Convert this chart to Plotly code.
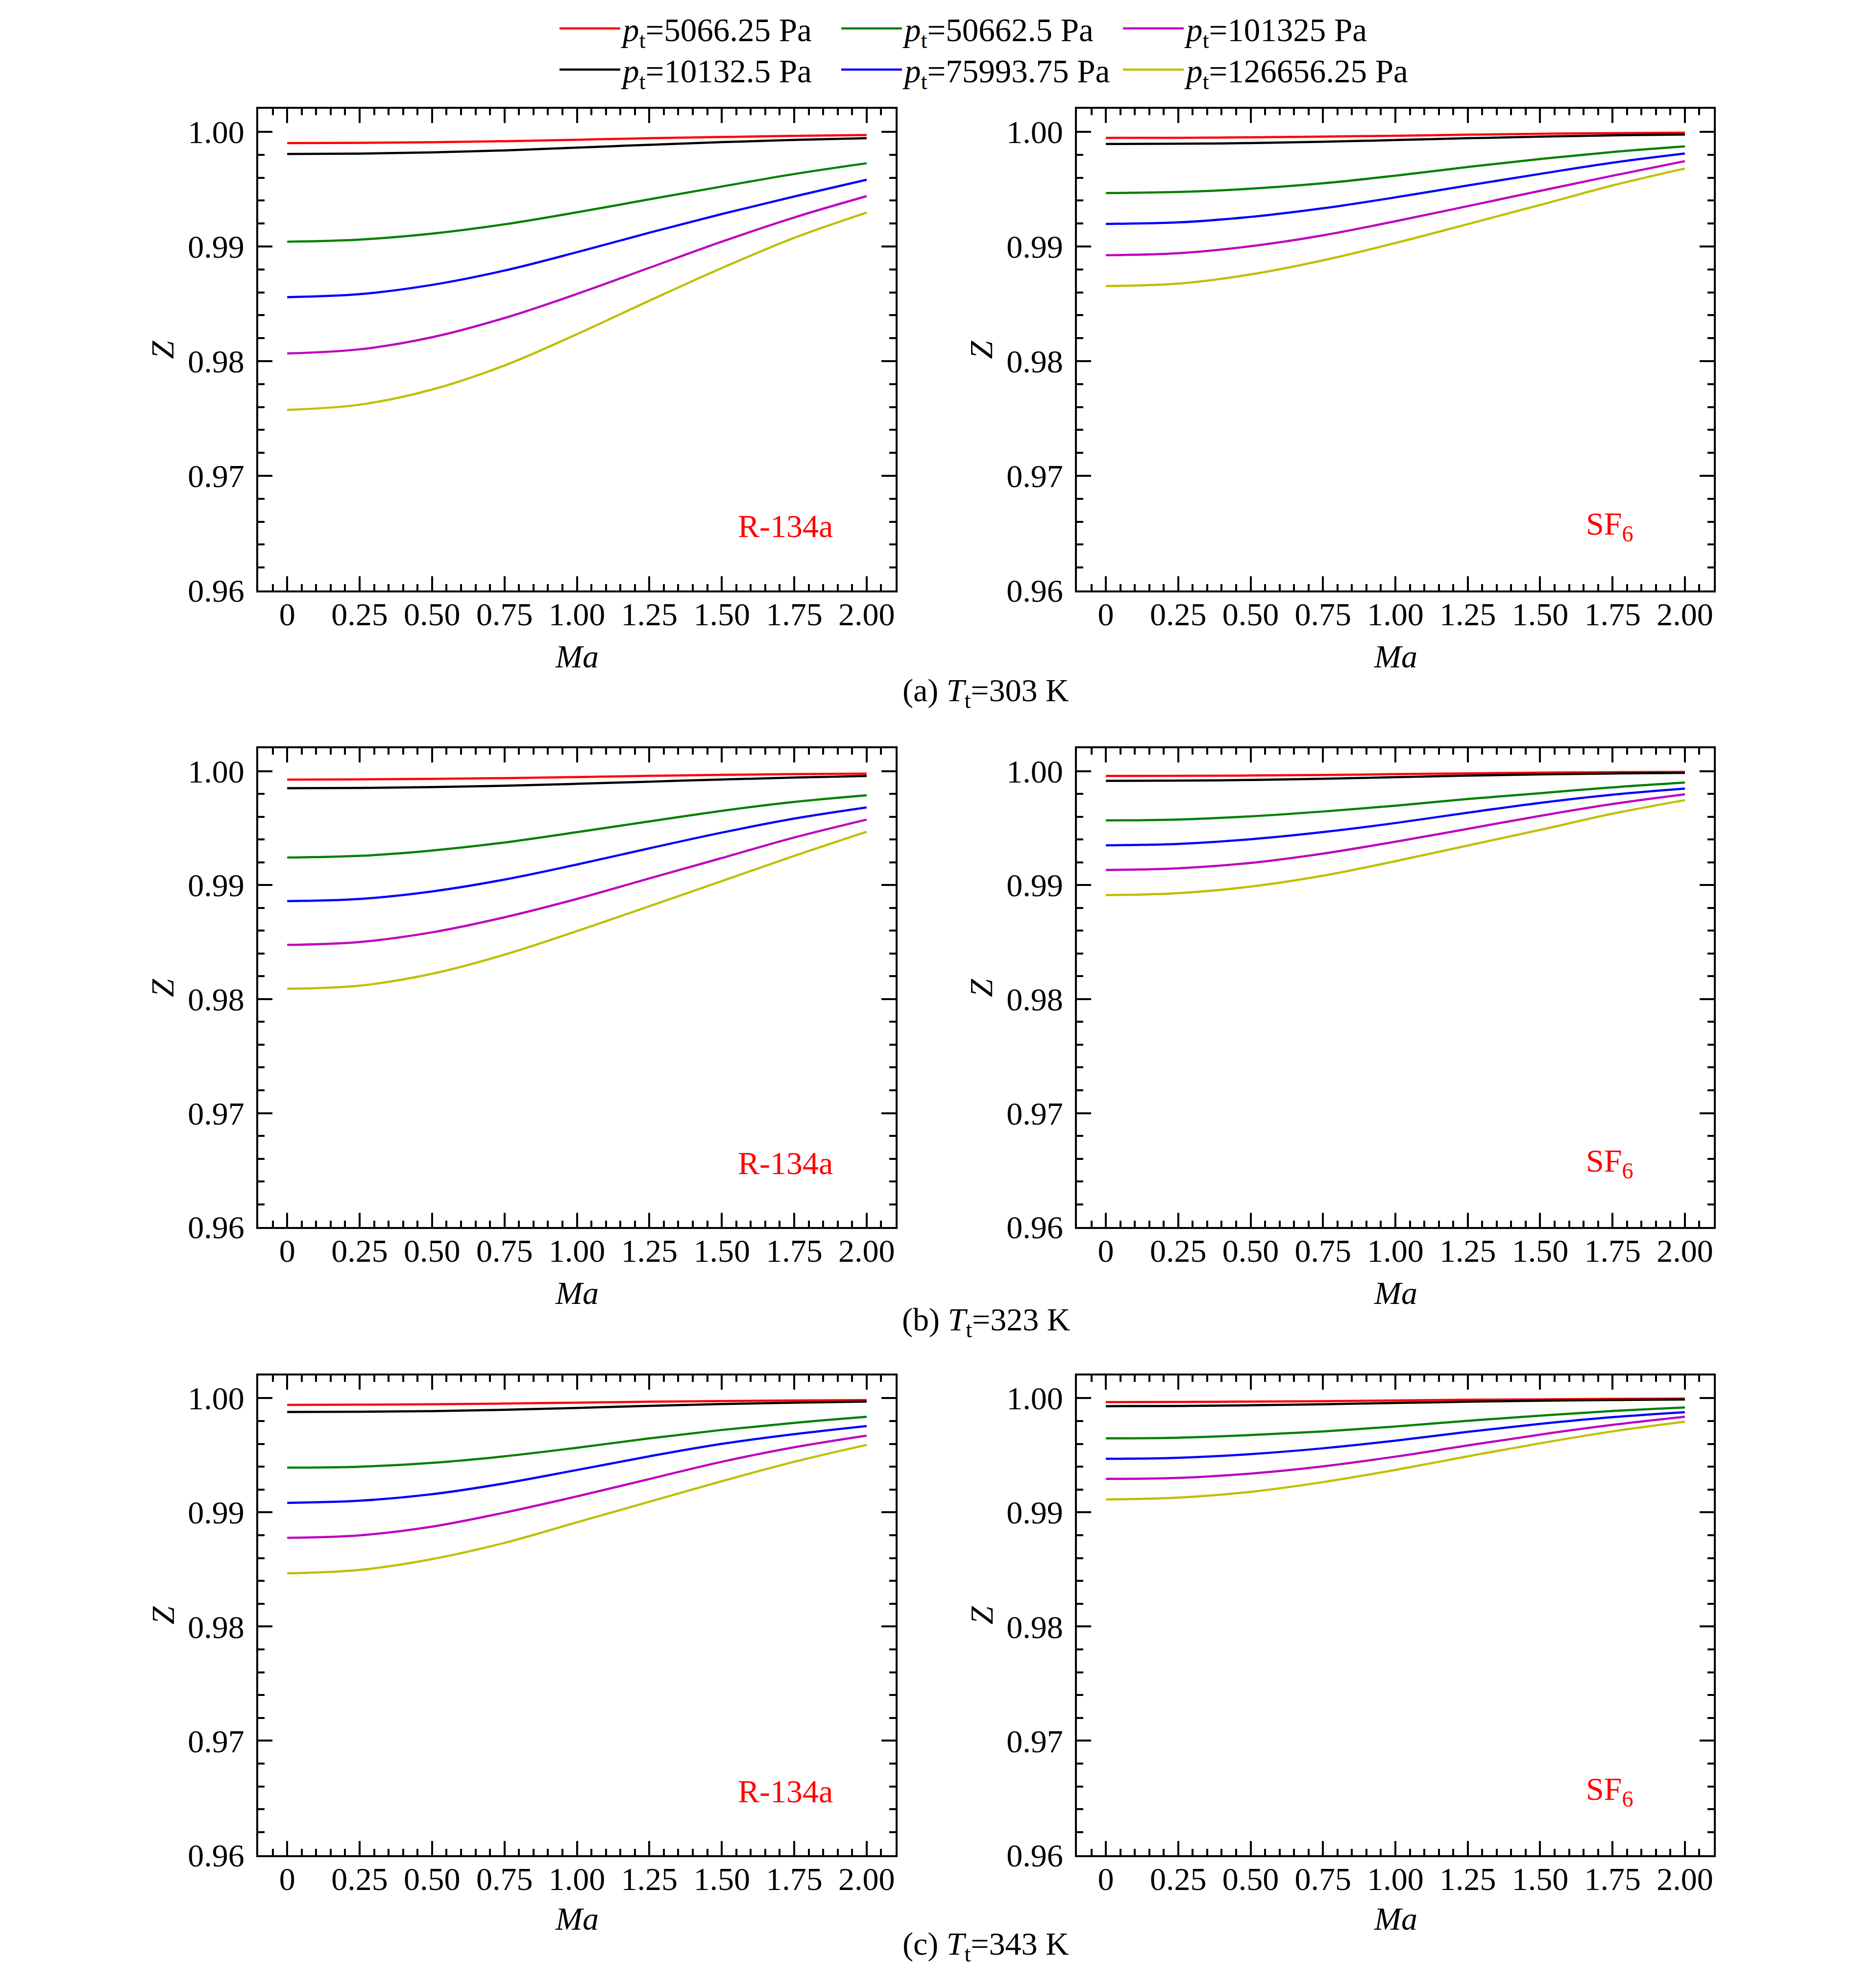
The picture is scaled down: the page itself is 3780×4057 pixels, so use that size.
import plotly.graph_objects as go
from plotly.subplots import make_subplots

# Mach number samples
ma = [0, 0.25, 0.5, 0.75, 1.0, 1.25, 1.5, 1.75, 2.0]

pressures = ["5066.25", "10132.5", "50662.5", "75993.75", "101325", "126656.25"]
colors = ["#FF0000", "#000000", "#008000", "#0000FF", "#BF00BF", "#BFBF00"]

ma_ticks = [0, 0.25, 0.5, 0.75, 1.0, 1.25, 1.5, 1.75, 2.0]
ma_ticktext = ["0", "0.25", "0.50", "0.75", "1.00", "1.25", "1.50", "1.75", "2.00"]
z_ticks = [0.96, 0.97, 0.98, 0.99, 1.00]
temps = ["303", "323", "343"]
fluids = ["R-134a", "SF<sub>6</sub>"]

# Z values, one list per total pressure (same order as `pressures`)
z_r134a_303 = [
    [0.99902, 0.99904, 0.99909, 0.99918, 0.99931, 0.99944, 0.99955, 0.99965, 0.99972],
    [0.99807, 0.99810, 0.99820, 0.99838, 0.99862, 0.99887, 0.99910, 0.99929, 0.99944],
    [0.99042, 0.99060, 0.99112, 0.99193, 0.99298, 0.99411, 0.99523, 0.99632, 0.99726],
    [0.98558, 0.98584, 0.98665, 0.98790, 0.98950, 0.99120, 0.99283, 0.99436, 0.99582],
    [0.98067, 0.98103, 0.98208, 0.98376, 0.98586, 0.98814, 0.99042, 0.99253, 0.99439],
    [0.97575, 0.97620, 0.97752, 0.97962, 0.98235, 0.98527, 0.98812, 0.99075, 0.99295],
]
z_sf6_303 = [
    [0.99947, 0.99948, 0.99952, 0.99958, 0.99966, 0.99975, 0.99983, 0.99988, 0.99992],
    [0.99894, 0.99896, 0.99902, 0.99913, 0.99928, 0.99944, 0.99958, 0.99969, 0.99977],
    [0.99466, 0.99475, 0.99504, 0.99551, 0.99617, 0.99693, 0.99763, 0.99824, 0.99873],
    [0.99197, 0.99210, 0.99258, 0.99333, 0.99428, 0.99532, 0.99633, 0.99731, 0.99811],
    [0.98924, 0.98941, 0.99002, 0.99097, 0.99220, 0.99352, 0.99485, 0.99617, 0.99744],
    [0.98655, 0.98676, 0.98756, 0.98879, 0.99030, 0.99195, 0.99362, 0.99532, 0.99680],
]
z_r134a_323 = [
    [0.99926, 0.99928, 0.99932, 0.99939, 0.99949, 0.99959, 0.99968, 0.99974, 0.99979],
    [0.99851, 0.99853, 0.99860, 0.99872, 0.99889, 0.99908, 0.99927, 0.99944, 0.99958],
    [0.99242, 0.99257, 0.99304, 0.99374, 0.99465, 0.99559, 0.99652, 0.99730, 0.99788],
    [0.98860, 0.98879, 0.98945, 0.99049, 0.99181, 0.99323, 0.99461, 0.99584, 0.99682],
    [0.98476, 0.98501, 0.98586, 0.98718, 0.98879, 0.99059, 0.99238, 0.99418, 0.99575],
    [0.98091, 0.98118, 0.98222, 0.98390, 0.98597, 0.98815, 0.99035, 0.99257, 0.99469],
]
z_sf6_323 = [
    [0.99958, 0.99959, 0.99962, 0.99967, 0.99974, 0.99981, 0.99987, 0.99991, 0.99994],
    [0.99915, 0.99917, 0.99923, 0.99933, 0.99947, 0.99961, 0.99972, 0.99980, 0.99985],
    [0.99568, 0.99576, 0.99604, 0.99646, 0.99697, 0.99756, 0.99807, 0.99858, 0.99900],
    [0.99350, 0.99362, 0.99403, 0.99466, 0.99545, 0.99636, 0.99722, 0.99794, 0.99848],
    [0.99133, 0.99148, 0.99195, 0.99277, 0.99381, 0.99494, 0.99608, 0.99712, 0.99797],
    [0.98913, 0.98930, 0.98987, 0.99083, 0.99210, 0.99348, 0.99485, 0.99627, 0.99746],
]
z_r134a_343 = [
    [0.99941, 0.99943, 0.99947, 0.99953, 0.99961, 0.99969, 0.99975, 0.99980, 0.99983],
    [0.99879, 0.99881, 0.99887, 0.99898, 0.99915, 0.99933, 0.99949, 0.99961, 0.99970],
    [0.99392, 0.99400, 0.99434, 0.99491, 0.99566, 0.99648, 0.99722, 0.99784, 0.99837],
    [0.99083, 0.99102, 0.99159, 0.99254, 0.99371, 0.99491, 0.99600, 0.99685, 0.99756],
    [0.98777, 0.98799, 0.98875, 0.98998, 0.99140, 0.99292, 0.99443, 0.99570, 0.99672],
    [0.98466, 0.98496, 0.98591, 0.98733, 0.98913, 0.99093, 0.99273, 0.99443, 0.99591],
]
z_sf6_343 = [
    [0.99966, 0.99967, 0.99970, 0.99974, 0.99980, 0.99986, 0.99990, 0.99994, 0.99996],
    [0.99930, 0.99932, 0.99938, 0.99947, 0.99958, 0.99969, 0.99978, 0.99984, 0.99989],
    [0.99648, 0.99654, 0.99677, 0.99709, 0.99752, 0.99802, 0.99847, 0.99888, 0.99919],
    [0.99469, 0.99478, 0.99510, 0.99561, 0.99628, 0.99705, 0.99775, 0.99834, 0.99877],
    [0.99293, 0.99302, 0.99340, 0.99403, 0.99488, 0.99586, 0.99681, 0.99766, 0.99837],
    [0.99113, 0.99129, 0.99180, 0.99265, 0.99372, 0.99491, 0.99605, 0.99709, 0.99794],
]

panels = [[z_r134a_303, z_sf6_303], [z_r134a_323, z_sf6_323], [z_r134a_343, z_sf6_343]]

W, H = 3780, 4057
FONT = "Liberation Serif"
FS = 66

# panel frames in pixels (left, right) and (top, bottom)
col_px = [(519, 1820), (2190, 3490)]
row_px = [(196, 1193), (1520, 2511), (2818, 3811)]
ma_title_px = [1329, 2647, 3943]
caption_px = [1405, 2707, 4000]

fig = make_subplots(rows=3, cols=2)

for r in range(3):
    for c in range(2):
        data = panels[r][c]
        for i in range(len(pressures)):
            first = (r == 0 and c == 0)
            fig.add_trace(go.Scatter(
                x=ma, y=data[i], mode="lines",
                line=dict(color=colors[i], width=4.5, shape="spline", smoothing=1.0),
                name="<i>p</i><sub>t</sub>=" + pressures[i] + " Pa",
                showlegend=first,
                legend="legend" if i % 2 == 0 else "legend2",
                legendrank=i,
            ), row=r + 1, col=c + 1)

# empty spacer entries so the widest legend label is not clipped
for lg in ["legend", "legend2"]:
    fig.add_trace(go.Scatter(x=[None], y=[None], mode="lines", name=" ",
                             line=dict(width=0, color="rgba(0,0,0,0)"),
                             legend=lg, legendrank=99, hoverinfo="skip"), row=1, col=1)

axis_common = dict(
    showline=True, linecolor="black", linewidth=4, mirror="ticks",
    ticks="inside", tickcolor="black", tickwidth=3.5, ticklen=29,
    showgrid=False, zeroline=False,
    tickfont=dict(family=FONT, size=FS, color="black"),
)
minor_common = dict(ticks="inside", ticklen=13, tickwidth=3.5, tickcolor="black")

for r in range(3):
    for c in range(2):
        k = r * 2 + c + 1
        x0, x1 = col_px[c]
        y0, y1 = row_px[r]
        fig.update_xaxes(
            domain=[x0 / W, x1 / W], range=[-0.1, 2.1],
            tickvals=ma_ticks, ticktext=ma_ticktext, ticklabelstandoff=-12,
            minor=dict(dtick=0.05, tick0=0, **minor_common),
            row=r + 1, col=c + 1, **axis_common)
        fig.update_yaxes(
            domain=[1 - y1 / H, 1 - y0 / H], range=[0.96, 1.002],
            tickvals=z_ticks, tickformat=".2f", ticklabelstandoff=11,
            minor=dict(dtick=0.002, tick0=0.96, **minor_common),
            row=r + 1, col=c + 1, **axis_common)

        # axis titles
        fig.add_annotation(text="<i>Ma</i>", xref="paper", yref="paper",
                           x=(x0 + x1) / 2 / W, y=1 - ma_title_px[r] / H,
                           xanchor="center", yanchor="middle",
                           showarrow=False, font=dict(family=FONT, size=FS, color="black"))
        fig.add_annotation(text="<i>Z</i>", xref="paper", yref="paper", textangle=-90,
                           x=(x0 - 195) / W, y=1 - (y0 + y1) / 2 / H,
                           xanchor="center", yanchor="middle",
                           showarrow=False, font=dict(family=FONT, size=FS, color="black"))
        # fluid label
        xr = "x" if k == 1 else "x%d" % k
        yr = "y" if k == 1 else "y%d" % k
        fig.add_annotation(text=fluids[c], xref=xr, yref=yr, x=1.72 if c == 0 else 1.74, y=0.9656,
                           xanchor="center", yanchor="middle",
                           showarrow=False, font=dict(family=FONT, size=FS, color="#FF0000"))

    fig.add_annotation(text="(" + "abc"[r] + ") <i>T</i><sub>t</sub>=" + temps[r] + " K",
                       xref="paper", yref="paper",
                       x=(col_px[0][0] + col_px[1][1]) / 2 / W, y=1 - caption_px[r] / H,
                       xanchor="center", yanchor="middle",
                       showarrow=False, font=dict(family=FONT, size=FS, color="black"))

legend_common = dict(
    orientation="h", xanchor="left", yanchor="middle",
    font=dict(family=FONT, size=67, color="black"),
    bgcolor="rgba(0,0,0,0)", itemwidth=124, entrywidth=436, entrywidthmode="pixels",
    tracegroupgap=0,
)

fig.update_layout(
    width=W, height=H,
    margin=dict(l=0, r=0, t=0, b=0),
    paper_bgcolor="white", plot_bgcolor="white",
    font=dict(family=FONT, size=FS, color="black"),
    legend=dict(x=1129 / W, y=1 - 30 / H, **legend_common),
    legend2=dict(x=1129 / W, y=1 - 115 / H, **legend_common),
)

fig.write_html("out.html")
